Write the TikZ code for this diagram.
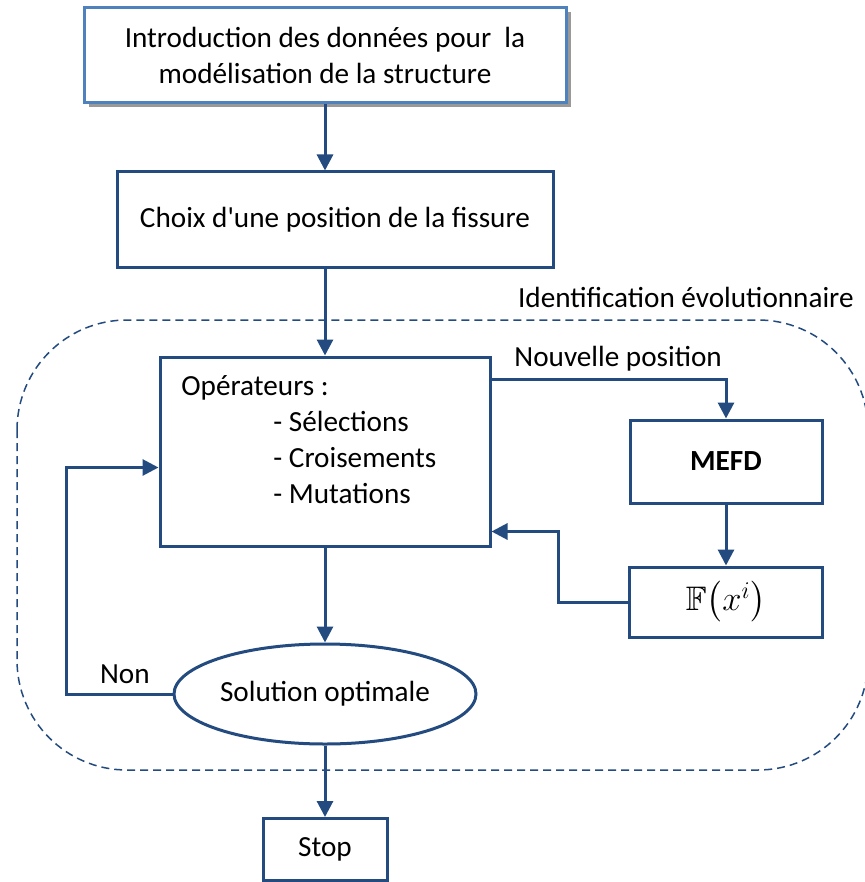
\documentclass[tikz,border=0pt]{standalone}
\usepackage{amssymb}
\usepackage{fontspec}
\setmainfont{Carlito}
\usetikzlibrary{arrows.meta,shapes.geometric,shadows}

\definecolor{darkblue}{RGB}{35,75,128}
\definecolor{lightblue}{RGB}{79,129,189}

\begin{document}
\begin{tikzpicture}[x=0.5pt, y=-0.5pt,
    every node/.style={font=\fontsize{14.6}{18}\selectfont, text=black},
    box/.style={draw=darkblue, line width=1.5pt, fill=white, inner sep=0pt},
    link/.style={darkblue, line width=1.5pt, -{Triangle[length=8pt, width=8pt]}},
    wire/.style={darkblue, line width=1.5pt}]
    \useasboundingbox (0,0) rectangle (864,882);

    % dashed zone of the evolutionary identification
    \draw[darkblue, line width=0.75pt, dash pattern=on 4pt off 2.5pt, rounded corners=55pt] (17,320) rectangle (868,770);
    \node[anchor=west] (zone) at (511,297) {Identification évolutionnaire};

    \node[box, draw=lightblue, minimum width=241pt, minimum height=47.5pt, align=center,
          drop shadow={shadow xshift=2.5pt, shadow yshift=-2.5pt, fill=gray!80, opacity=1}]
        (intro) at (325,55) {Introduction des données pour~ la\\modélisation de la structure};
    \node[box, minimum width=218pt, minimum height=47.5pt] (choix) at (335,219.5) {Choix d\textquotesingle une position de la fissure};
    \node[box, minimum width=165pt, minimum height=94.5pt] (oper) at (325,451.5) {};
    \node[anchor=north west, align=left, inner sep=0pt] (oplist) at (181,375)
        {Opérateurs :\\\hspace{46pt}- Sélections\\\hspace{46pt}- Croisements\\\hspace{46pt}- Mutations};
    \node[box, minimum width=96pt, minimum height=41.5pt] (mefd) at (726,461.5) {\textbf{MEFD}};
    \node[box, minimum width=96.5pt, minimum height=35pt, font=\fontsize{17}{20}\selectfont] (fx) at (726,602)
        {$\mathbb{F}\biggl(x^{i}\biggr)$};
    \node[box, ellipse, minimum width=151pt, minimum height=50pt] (sol) at (325,694) {Solution optimale};
    \node[box, minimum width=62pt, minimum height=31pt] (stop) at (325,849.5) {Stop};

    \draw[link] (intro.south) -- (choix.north -| intro.south);
    \draw[link] (choix.south -| intro.south) -- (oper.north);
    \draw[link] ([yshift=-12pt]oper.north east) -| node[pos=0.27, above] (nouv) {Nouvelle position} (mefd.north);
    \draw[link] (mefd.south) -- (fx.north);
    \draw[link] (fx.west) -- ++(-70,0) |- ([yshift=-40pt]oper.east);
    \draw[link] (oper.south) -- (sol.north);
    \draw[link] (sol.west) -- node[pos=0.45, above=1pt] (non) {Non} ++(-106,0) |- ([yshift=-8pt]oper.west);
    \draw[link] (sol.south) -- (stop.north);
\end{tikzpicture}
\end{document}
